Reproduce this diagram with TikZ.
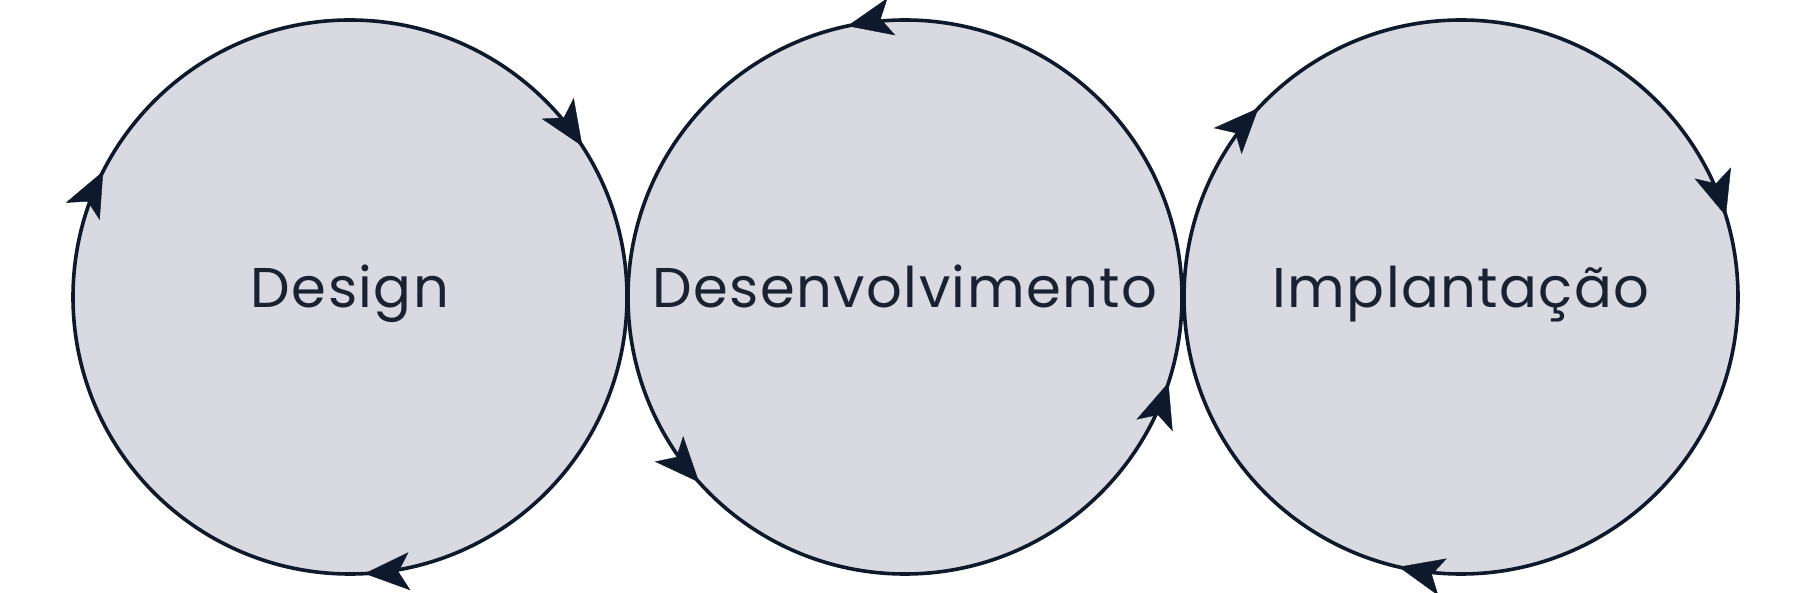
\documentclass[tikz,border=0pt]{standalone}
\usepackage{fontspec}
\setmainfont{Poppins}[LetterSpace=2.5]
\usetikzlibrary{arrows.meta,decorations.markings}
\definecolor{bub}{HTML}{D9D9E1}
\definecolor{ink}{HTML}{0E1A2B}
\definecolor{txt}{HTML}{1A2130}
\tikzset{
  bubble/.style={circle, fill=bub, draw=ink, line width=3.6pt, minimum size=554pt, inner sep=0pt, outer sep=0pt},
  tipmark/.style={decorate, decoration={markings, mark=at position 1 with {\arrow[ink]{Stealth[length=45pt,width=38pt,inset=11pt]}}}},
  lbl/.style={anchor=base, inner sep=0pt, text=txt, font=\fontsize{56}{62}\selectfont}
}
\begin{document}
\begin{tikzpicture}[x=1pt,y=1pt]
\useasboundingbox[fill=white] (0,0) rectangle (1794,592);
\node[bubble] (c1) at (350,295) {};
\node[bubble] (c2) at (905,295) {};
\node[bubble] (c3) at (1461,295) {};
\node[lbl] (t1) at ([yshift=-11pt]c1.center) {Design};
\node[lbl] (t2) at ([yshift=-11pt]c2.center) {Desenvolvimento};
\node[lbl] (t3) at ([yshift=-11pt]c3.center) {Implantação};
% circle 1: clockwise
\path[tipmark] (c1.53) arc[start angle=53, end angle=33, radius=277pt];
\path[tipmark] (c1.-67) arc[start angle=-67, end angle=-87, radius=277pt];
\path[tipmark] (c1.173) arc[start angle=173, end angle=153, radius=277pt];
% circle 2: counterclockwise
\path[tipmark] (c2.82) arc[start angle=82, end angle=102, radius=277pt];
\path[tipmark] (c2.202) arc[start angle=202, end angle=222, radius=277pt];
\path[tipmark] (c2.322) arc[start angle=322, end angle=342, radius=277pt];
% circle 3: clockwise
\path[tipmark] (c3.157) arc[start angle=157, end angle=137, radius=277pt];
\path[tipmark] (c3.37) arc[start angle=37, end angle=17, radius=277pt];
\path[tipmark] (c3.-83) arc[start angle=-83, end angle=-103, radius=277pt];
\end{tikzpicture}
\end{document}
